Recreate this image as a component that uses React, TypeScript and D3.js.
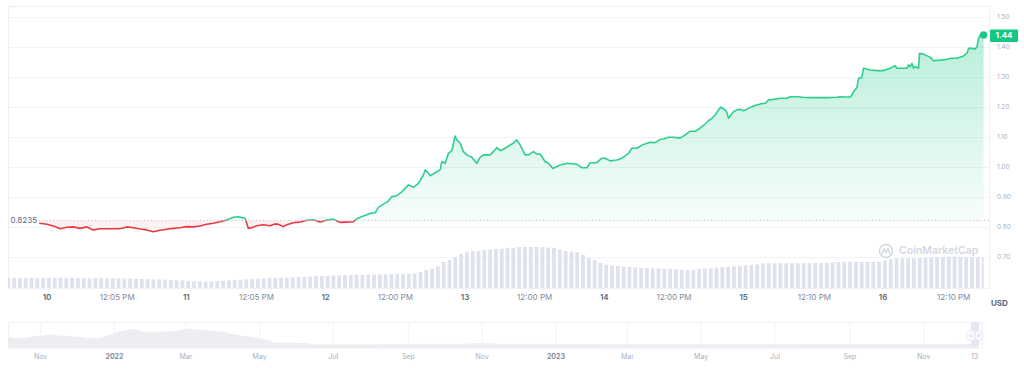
import React from "react";
import * as d3 from "d3";

// ---------- DATA ----------
// price series: [hours since 10 Dec 00:00, price USD]
const prices: [number, number][] = [
  [-1.33,0.814],[0,0.811],[1.38,0.803],[2.24,0.796],[3.39,0.801],[4.53,0.802],[5.69,0.797],[6.84,0.802],[7.98,0.792],[9.13,0.796],
  [11.42,0.796],[12.58,0.796],[13.73,0.802],[14.87,0.799],[16.02,0.795],[17.18,0.792],[18.32,0.786],[19.47,0.791],[20.62,0.794],[21.76,0.797],
  [22.92,0.799],[24.07,0.803],[25.21,0.802],[26.36,0.805],[27.52,0.811],[28.65,0.814],[29.81,0.819],[30.96,0.825],[32.1,0.834],[32.96,0.836],
  [33.55,0.833],[34.12,0.831],[34.41,0.814],[34.68,0.797],[35.27,0.799],[36.13,0.806],[37.27,0.809],[38.42,0.806],[39.28,0.812],[39.85,0.811],
  [40.71,0.803],[41.3,0.809],[42.44,0.816],[43.59,0.818],[44.75,0.824],[45.88,0.826],[47.04,0.818],[48.19,0.825],[49.33,0.828],[50.48,0.817],
  [51.64,0.818],[52.77,0.819],[53.36,0.829],[54.5,0.838],[55.65,0.847],[56.51,0.849],[57.08,0.867],[57.94,0.878],[58.81,0.888],[59.39,0.903],
  [60.25,0.906],[61.11,0.919],[62.25,0.942],[63.11,0.934],[63.97,0.947],[64.84,0.975],[65.13,0.992],[65.7,0.981],[65.99,0.972],[67.14,0.986],
  [67.71,0.992],[68.0,1.019],[68.58,1.014],[69.14,1.047],[69.73,1.056],[70.3,1.105],[70.59,1.092],[71.16,1.081],[71.73,1.053],[72.31,1.042],
  [73.17,1.034],[73.45,1.027],[74.04,1.014],[74.6,1.034],[75.17,1.042],[76.33,1.042],[76.9,1.053],[77.48,1.066],[78.05,1.056],[78.62,1.061],
  [79.77,1.075],[80.34,1.081],[80.93,1.092],[81.5,1.075],[82.36,1.042],[82.93,1.042],[83.79,1.053],[84.38,1.045],[84.94,1.045],[85.81,1.019],
  [86.37,1.014],[87.13,0.997],[88.39,1.008],[89.54,1.014],[91.27,1.011],[92.13,0.999],[92.99,0.999],[93.56,1.016],[94.71,1.016],[95.57,1.031],
  [96.14,1.031],[97.0,1.022],[98.16,1.025],[99.02,1.031],[100.16,1.047],[100.74,1.064],[101.6,1.064],[102.74,1.077],[103.9,1.084],[104.76,1.083],
  [105.62,1.094],[106.19,1.095],[107.05,1.101],[107.91,1.101],[109.06,1.098],[109.92,1.109],[110.79,1.121],[111.65,1.121],[112.22,1.127],[112.8,1.136],
  [113.37,1.145],[113.94,1.156],[114.53,1.164],[115.1,1.175],[115.67,1.192],[116.08,1.201],[116.53,1.195],[117.0,1.189],[117.39,1.164],[117.68,1.172],
  [118.25,1.186],[118.84,1.192],[119.4,1.194],[119.97,1.189],[120.83,1.197],[121.7,1.205],[122.85,1.212],[123.71,1.214],[124.28,1.225],[125.14,1.227],
  [126.3,1.231],[127.45,1.231],[128.02,1.236],[129.17,1.236],[130.31,1.234],[131.47,1.233],[132.62,1.233],[134.34,1.233],[136.07,1.234],[136.64,1.236],
  [137.2,1.235],[138.36,1.235],[138.65,1.242],[138.93,1.253],[139.51,1.267],[139.79,1.297],[140.37,1.301],[140.65,1.331],[141.8,1.325],[142.96,1.323],
  [144.1,1.323],[145.25,1.331],[146.11,1.339],[146.4,1.331],[148.13,1.331],[148.4,1.342],[148.7,1.336],[148.99,1.347],[149.26,1.331],[149.56,1.336],
  [150.12,1.331],[150.3,1.381],[150.99,1.378],[152.14,1.367],[152.71,1.356],[153.86,1.358],[155.02,1.361],[155.59,1.364],[156.74,1.364],[157.88,1.372],
  [158.46,1.381],[158.74,1.397],[159.32,1.397],[159.9,1.395],[160.19,1.403],[160.47,1.431],[160.76,1.442],[161.33,1.442],
];

// hourly volume (arbitrary units), first value at hour -7
const volumeStartHour = -7;
const volumes: number[] = [
  9.8,10.0,10.1,9.9,10.2,10.0,
  10,10.2,10.1,10.3,10.2,10.4,10.1,10.0,9.8,10.0,9.9,9.7,9.8,9.6,9.4,9.5,9.3,9.0,8.9,8.7,8.5,8.4,8.0,7.8,7.5,
  7.1,6.9,6.5,6.4,6.6,6.8,7.2,7.6,7.9,8.3,8.7,9.0,9.3,9.6,9.8,10.1,10.3,10.5,10.8,11.0,11.3,11.5,11.8,12.0,
  12.2,12.4,12.6,12.8,13.0,13.1,13.3,13.4,13.5,13.6,13.7,13.8,13.9,14.0,14.2,14.5,16.0,18.0,19.2,21.5,26.0,28.0,30.5,34.0,
  36.0,36.8,37.2,37.8,38.5,39.0,39.3,39.7,40.1,40.8,41.0,41.0,40.9,40.7,40.4,40.1,38.5,37.0,36.3,35.7,33.0,30.2,27.8,25.0,
  23.2,22.5,22.0,21.5,21.0,20.6,20.3,20.0,19.7,19.5,19.3,19.1,18.7,18.3,18.0,18.2,19.0,19.5,19.8,20.3,20.7,21.2,21.6,22.2,
  22.4,23.0,23.8,24.7,24.6,24.7,24.8,24.7,24.8,24.9,24.8,24.9,25.0,25.0,25.2,25.5,26.0,26.3,26.4,26.3,26.2,26.0,26.1,26.2,
  27.5,29.0,29.7,29.8,29.7,29.8,29.9,30.2,30.5,30.8,31.1,31.3,31.3,31.2,31.1,31.0,30.9,30.4,
];

const baselinePrice = 0.8235;
const lastPriceLabel = "1.44";
const priceTicks = [0.7, 0.8, 0.9, 1.0, 1.1, 1.2, 1.3, 1.4, 1.5];
const xTicks: [number, string, boolean][] = [
  [0, "10", true], [12.083, "12:05 PM", false], [24, "11", true], [36.083, "12:05 PM", false],
  [48, "12", true], [60, "12:00 PM", false], [72, "13", true], [84, "12:00 PM", false],
  [96, "14", true], [108, "12:00 PM", false], [120, "15", true], [132.17, "12:10 PM", false],
  [144, "16", true], [156.17, "12:10 PM", false],
];

// navigator (long-range overview)
const navSeries: [string, number][] = [
  ["2021-10-05",11],["2021-10-12",10],["2021-10-19",10],["2021-10-25",11.6],["2021-11-01",12.3],["2021-11-08",13.3],
  ["2021-11-15",12.6],["2021-11-22",12.3],["2021-11-29",11.6],["2021-12-05",11],["2021-12-12",9.6],["2021-12-19",10],
  ["2021-12-25",12.3],["2021-12-30",14.3],["2022-01-05",16.6],["2022-01-10",17.6],["2022-01-15",19],["2022-01-20",18.3],
  ["2022-01-24",16.6],["2022-01-30",15.6],["2022-02-04",16],["2022-02-09",16.6],["2022-02-15",16.6],["2022-02-21",17.3],
  ["2022-02-26",18.3],["2022-03-02",19.6],["2022-03-06",19],["2022-03-12",18.3],["2022-03-17",17.6],["2022-03-22",17.3],
  ["2022-03-28",16.6],["2022-04-02",16.3],["2022-04-07",14.3],["2022-04-13",13],["2022-04-19",12],["2022-04-24",11],
  ["2022-04-30",10],["2022-05-05",9],["2022-05-09",7.3],["2022-05-12",5.6],["2022-05-19",5.3],["2022-05-27",5.3],
  ["2022-06-02",5],["2022-06-10",5],["2022-06-14",3.6],["2022-06-29",3.6],["2022-07-27",3.6],["2022-08-23",4],
  ["2022-09-19",4.3],["2022-10-17",4.3],["2022-10-28",5],["2022-11-03",5],["2022-11-14",4.3],["2022-12-01",4.3],
  ["2023-02-05",3.8],["2023-04-28",3.7],["2023-07-20",3.8],["2023-10-10",3.9],["2023-11-20",4.0],["2023-12-16",4.2],
];
const navTicks: [string, string, boolean][] = [
  ["2021-11-01","Nov",false],["2022-01-01","2022",true],["2022-03-01","Mar",false],["2022-05-01","May",false],
  ["2022-07-01","Jul",false],["2022-09-01","Sep",false],["2022-11-01","Nov",false],["2023-01-01","2023",true],
  ["2023-03-01","Mar",false],["2023-05-01","May",false],["2023-07-01","Jul",false],["2023-09-01","Sep",false],
  ["2023-11-01","Nov",false],["2023-12-13","13",false],
];

// ---------- CHART ----------
const GREEN = "#16c784";
const RED = "#ea3943";
const FONT = "Inter, 'Noto Sans', sans-serif";
const parse = (s: string) => { const [y, m, d] = s.split("-").map(Number); return new Date(y, m - 1, d); };
const chartStart = new Date(2023, 11, 10).getTime();

export default function App() {
  const left = 8, right = 990, top = 6, bottom = 288;
  const x = d3.scaleLinear().domain([0, 144]).range([47, 883]);
  const y = d3.scaleLinear().domain([0.7, 1.5]).range([257.5, 17.5]);
  const vy = d3.scaleLinear().domain([0, 50]).range([bottom, bottom - 50]);
  const by = y(baselinePrice);

  const line = d3.line<[number, number]>().x(d => x(d[0])).y(d => y(d[1]));
  const area = d3.area<[number, number]>().x(d => x(d[0])).y0(by).y1(d => y(d[1]));
  const dataRight = x(prices[prices.length - 1][0]);
  const last = prices[prices.length - 1];
  const step = x(1) - x(0);

  const nx = d3.scaleTime().domain([new Date(2021, 9, 5), new Date(2023, 11, 20)]).range([8, 983]);
  const ny = d3.scaleLinear().domain([0, 26]).range([348, 322]);
  const navArea = d3.area<[string, number]>().x(d => nx(parse(d[0]))).y0(348).y1(d => ny(d[1]));
  const selStart = nx(new Date(chartStart + prices[0][0] * 3600e3));
  const selEnd = nx(new Date(chartStart + last[0] * 3600e3));

  return (
    <svg width={1024} height={369} style={{ position: "absolute", left: 0, top: 0, background: "#fff" }} fontFamily={FONT}>
      <defs>
        <clipPath id="above"><rect x={left} y={top} width={right - left} height={by - top} /></clipPath>
        <clipPath id="below"><rect x={left} y={by} width={right - left} height={bottom - by} /></clipPath>
        <clipPath id="plot"><rect x={left} y={top} width={dataRight - left} height={bottom - top} /></clipPath>
        <linearGradient id="gFill" gradientUnits="userSpaceOnUse" x1="0" y1={y(1.44)} x2="0" y2={by}>
          <stop offset="0" stopColor={GREEN} stopOpacity={0.3} />
          <stop offset="1" stopColor={GREEN} stopOpacity={0.03} />
        </linearGradient>
        <linearGradient id="rFill" gradientUnits="userSpaceOnUse" x1="0" y1={by} x2="0" y2={y(0.78)}>
          <stop offset="0" stopColor={RED} stopOpacity={0.1} />
          <stop offset="1" stopColor={RED} stopOpacity={0.0} />
        </linearGradient>
      </defs>

      {/* grid */}
      {priceTicks.map(t => (
        <line key={t} x1={left} x2={right} y1={y(t)} y2={y(t)} stroke="#f1f3f6" strokeWidth={1} />
      ))}
      <rect x={left + 0.5} y={top + 0.5} width={right - left - 1} height={bottom - top} fill="none" stroke="#eef0f4" />

      {/* volume */}
      <g clipPath="url(#plot)">
        {volumes.map((v, i) => {
          const h = volumeStartHour + i;
          return <rect key={i} x={x(h)} y={vy(v)} width={step - 2} height={bottom - vy(v)} fill="#dfe2ed" />;
        })}
      </g>

      {/* watermark */}
      <g opacity={0.9}>
        <circle cx={886} cy={251} r={6.5} fill="none" stroke="#ccd2dd" strokeWidth={1.4} />
        <path d="M882,254 L884,248.5 L886,253 L888,248.5 L890,254" fill="none" stroke="#ccd2dd" strokeWidth={1.4} strokeLinejoin="round" />
        <text x={899} y={251} dominantBaseline="middle" fontSize={10.5} fontWeight={600} fill="#d0d5df">CoinMarketCap</text>
      </g>

      {/* areas */}
      <path d={area(prices) || ""} fill="url(#gFill)" clipPath="url(#above)" />
      <path d={area(prices) || ""} fill="url(#rFill)" clipPath="url(#below)" />

      {/* baseline */}
      <line x1={39} x2={right} y1={by} y2={by} stroke="#b8bfcc" strokeWidth={1} strokeDasharray="1 2.5" />
      <text x={37} y={by} textAnchor="end" dominantBaseline="middle" fontSize={8} fill="#58667e">{baselinePrice}</text>

      {/* lines */}
      <path d={line(prices) || ""} fill="none" stroke="#2ccf8e" strokeWidth={1.6} strokeLinejoin="round" clipPath="url(#above)" />
      <path d={line(prices) || ""} fill="none" stroke={RED} strokeWidth={1.6} strokeLinejoin="round" clipPath="url(#below)" />
      <circle cx={x(last[0])} cy={y(last[1])} r={3.6} fill={GREEN} />

      {/* y axis */}
      {priceTicks.map(t => (
        <text key={t} x={997} y={y(t)} dominantBaseline="middle" fontSize={6.5} fill="#a6b0c3">{t.toFixed(2)}</text>
      ))}
      <rect x={990} y={y(last[1]) - 5.5} width={28} height={12.5} fill={GREEN} rx={1} />
      <text x={1004} y={y(last[1]) + 0.8} textAnchor="middle" dominantBaseline="middle" fontSize={8} fontWeight={700} fill="#fff">{lastPriceLabel}</text>

      {/* x axis */}
      {xTicks.map(([h, lab, day], i) => (
        <text key={i} x={x(h)} y={297.5} textAnchor="middle" dominantBaseline="middle" fontSize={8}
          fontWeight={day ? 600 : 400} fill={day ? "#58667e" : "#808a9d"}>{lab}</text>
      ))}
      <text x={991} y={303.5} dominantBaseline="middle" fontSize={8} fontWeight={700} fill="#58667e">USD</text>

      {/* navigator */}
      <rect x={8.5} y={322.5} width={974} height={25.5} fill="none" stroke="#eef0f4" />
      {navTicks.slice(0, -1).map(([d], i) => (
        <line key={i} x1={nx(parse(d))} x2={nx(parse(d))} y1={322} y2={348} stroke="#f1f3f6" />
      ))}
      <path d={navArea(navSeries) || ""} fill="#eceef2" />
      <rect x={selStart} y={322} width={selEnd - selStart} height={23.5} fill="#dde4f6" opacity={0.85} />
      {[selStart, selEnd].map((sx, i) => (
        <g key={i}>
          <rect x={sx - 4} y={330.5} width={8} height={10} rx={4} fill="#fff" stroke="#d5dbe6" strokeWidth={0.6} />
          <line x1={sx - 1} x2={sx - 1} y1={333.5} y2={337.5} stroke="#b8bfcc" strokeWidth={0.6} />
          <line x1={sx + 1} x2={sx + 1} y1={333.5} y2={337.5} stroke="#b8bfcc" strokeWidth={0.6} />
        </g>
      ))}
      {navTicks.map(([d, lab, bold], i) => (
        <text key={i} x={nx(parse(d))} y={357.5} textAnchor="middle" dominantBaseline="middle" fontSize={7}
          fontWeight={bold ? 700 : 400} fill={bold ? "#808a9d" : "#a6b0c3"}>{lab}</text>
      ))}
    </svg>
  );
}
